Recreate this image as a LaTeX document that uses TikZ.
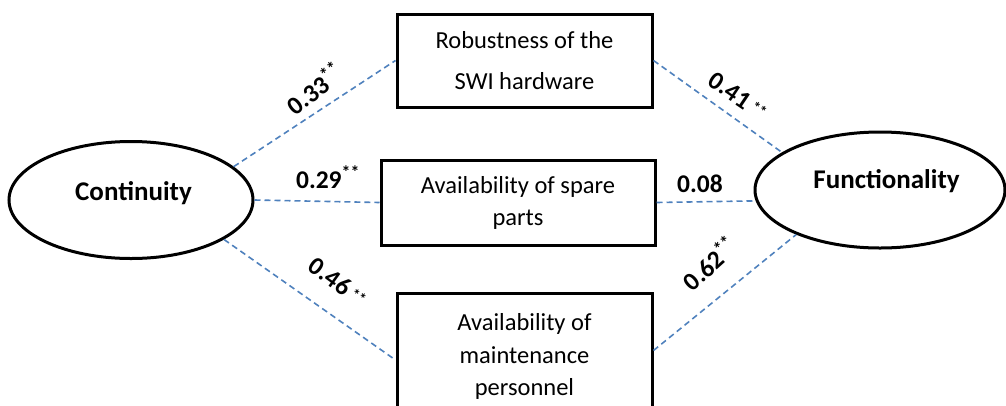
\documentclass[tikz,border=0pt]{standalone}
\usepackage{fontspec}
\setmainfont{Carlito}
\usetikzlibrary{shapes.geometric}
\definecolor{linkblue}{RGB}{79,129,189}
\begin{document}
\begin{tikzpicture}[x=1pt,y=-1pt,
  box/.style={draw, line width=3pt, inner sep=0pt, align=center},
  oval/.style={draw, ellipse, line width=3pt, inner sep=0pt},
  link/.style={draw=linkblue, line width=1.6pt, dash pattern=on 6pt off 4pt},
  coef/.style={font=\bfseries\fontsize{25.5}{28}\selectfont, inner sep=0pt},
  bigtxt/.style={font=\bfseries\fontsize{27}{30}\selectfont, anchor=base, inner sep=0pt}
]
\useasboundingbox (0,0) rectangle (1006,405);
\clip (0,0) rectangle (1006,405);

% boxes
\node[box, minimum width=255pt, minimum height=93pt, font=\fontsize{24.5}{41}\selectfont] (rob) at (524.5,60.5) {Robustness of the\\SWI hardware};
\node[box, minimum width=274pt, minimum height=85pt, font=\fontsize{24.5}{32}\selectfont] (spare) at (518,202.5) {Availability of spare\\parts};
\node[box, minimum width=255pt, minimum height=127pt, font=\fontsize{24.5}{32.5}\selectfont] (pers) at (524.5,356.5) {Availability of\\maintenance\\personnel};

% ellipses
\node[oval, minimum width=244pt, minimum height=117pt] (cont) at (131,200) {};
\node[oval, minimum width=250pt, minimum height=116pt] (func) at (880,190) {};
\node[bigtxt] (conttxt) at (133.5,200) {Continuity};
\node[bigtxt] (functxt) at (886.5,188.3) {Functionality};

% links
\draw[link] (cont.18) -- (rob.west);
\draw[link] (cont.east) -- (spare.west);
\draw[link] (cont.-23) -- ([yshift=-3.5pt]pers.west);
\draw[link] (rob.east) -- (func.159);
\draw[link] (spare.east) -- (func.185);
\draw[link] ([yshift=6pt]pers.east) -- (func.208);

% coefficients
\node[coef, rotate=38] (l1) at (314,88) {0.33\textsuperscript{**}};
\node[coef, anchor=base] (l2) at (328,188) {0.29\textsuperscript{**}};
\node[coef, rotate=-34] (l3) at (738,96) {0.41\,\raisebox{0.3ex}{\fontsize{15}{15}\selectfont **}};
\node[coef, anchor=base] (l4) at (700,192) {0.08};
\node[coef, rotate=-36] (l5) at (338,282) {0.46\,\raisebox{0.3ex}{\fontsize{15}{15}\selectfont **}};
\node[coef, rotate=42] (l6) at (709,263) {0.62\textsuperscript{**}};
\end{tikzpicture}
\end{document}
